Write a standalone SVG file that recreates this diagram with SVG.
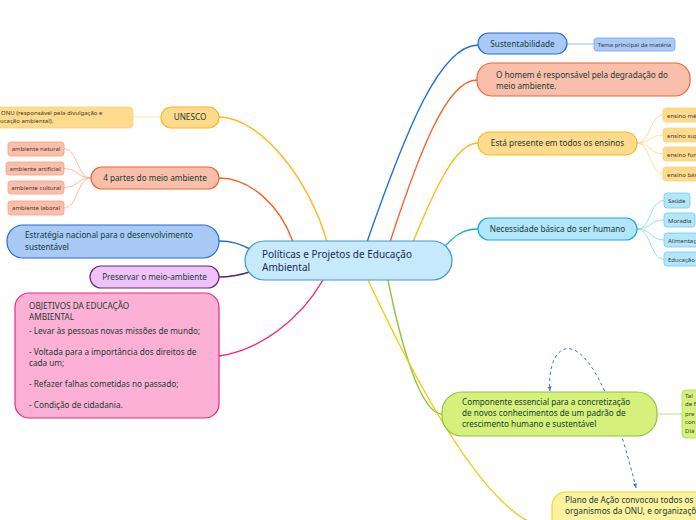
<svg xmlns="http://www.w3.org/2000/svg" width="696" height="520" viewBox="0 0 696 520">
<style>
text{font-family:"Noto Sans","Open Sans","DejaVu Sans",sans-serif;}
.t1{font-size:8.2px;fill:#173d33;}
.t0{font-size:10px;fill:#1b2b55;}
.t2{font-size:6px;fill:#3a3a3a;}
.c{fill:none;stroke-width:1.4;}
.cs{fill:none;stroke-width:0.9;}
.mid{text-anchor:middle;}
</style>
<defs>
<marker id="ah" viewBox="0 0 10 10" refX="9" refY="5" markerWidth="5" markerHeight="5" orient="auto-start-reverse" markerUnits="strokeWidth">
<path d="M0,1 L9,5 L0,9 z" fill="#3a6fe8"/>
</marker>
</defs>
<rect width="696" height="520" fill="#ffffff"/>
<g id="connectors">
<path class="c" stroke="#1f6fd6" d="M367,242 C406,130 440,45 478,45"/>
<path class="c" stroke="#f26433" d="M390,242 C420,150 447,80 477,80"/>
<path class="c" stroke="#fbb81c" d="M413,242 C436,186 456,143 478,143"/>
<path class="c" stroke="#1aabe6" d="M445,246 C455,236 462,229 478,229"/>
<path class="c" stroke="#8cc63f" d="M388,280 C400,340 420,414 442,414"/>
<path class="c" stroke="#e8cf10" d="M368,280 C410,370 490,528 552,528"/>
<path class="c" stroke="#fbb81c" d="M219,117 C260,117 310,180 327,242"/>
<path class="c" stroke="#f26433" d="M219,178 C250,178 280,205 293,242"/>
<path class="c" stroke="#1f6fd6" d="M219,241 C232,241 240,244 250,249"/>
<path class="c" stroke="#5a1f6d" d="M219,277 C232,277 240,275 250,272"/>
<path class="c" stroke="#f5207a" d="M219,356 C260,350 300,320 323,280"/>
<path class="cs" stroke="#8ab4f0" d="M567,44 L594,44"/>
<path class="cs" stroke="#fde0a0" d="M133,117 L161,117"/>
<path class="cs" stroke="#b5e06a" d="M657,414 L682,414"/>
<g stroke="#fdd98a">
<path class="cs" d="M637,143 C650,143 650,115 663,115"/>
<path class="cs" d="M637,143 C650,143 650,135 663,135"/>
<path class="cs" d="M637,143 C650,143 650,154 663,154"/>
<path class="cs" d="M637,143 C650,143 650,174 663,174"/>
</g>
<g stroke="#8fd8f5">
<path class="cs" d="M637,229 C651,229 650,200.5 664,200.5"/>
<path class="cs" d="M637,229 C651,229 650,220 664,220"/>
<path class="cs" d="M637,229 C651,229 650,240 664,240"/>
<path class="cs" d="M637,229 C651,229 650,259 664,259"/>
</g>
<g stroke="#f9b49a">
<path class="cs" d="M91,178 C77,178 78,149 64,149"/>
<path class="cs" d="M91,178 C77,178 78,168.5 64,168.5"/>
<path class="cs" d="M91,178 C77,178 78,187.5 64,187.5"/>
<path class="cs" d="M91,178 C77,178 78,208 64,208"/>
</g>
<path fill="none" stroke="#3a6fe8" stroke-width="1" stroke-dasharray="3,3" marker-start="url(#ah)" marker-end="url(#ah)" d="M636,488 C590,300 545,340 550,391"/>
</g>
<g id="center">
<rect x="245" y="241" width="207" height="39" rx="19.5" fill="#c6e9fb" stroke="#3d97d3" stroke-width="1.2"/>
<text class="t0" x="262" y="257.5">Políticas e Projetos de Educação</text>
<text class="t0" x="262" y="271">Ambiental</text>
</g>
<g id="sustentabilidade">
<rect x="478" y="33" width="89" height="21" rx="10.5" fill="#a9c9f7" stroke="#1f6fd6" stroke-width="1.2"/>
<text class="t1 mid" x="522.5" y="47">Sustentabilidade</text>
</g>
<g id="tema">
<rect x="594" y="38" width="81" height="13" rx="3" fill="#a9c9f7" stroke="#7aa6ea" stroke-width="0.8"/>
<text class="t2 mid" x="634.5" y="46.5">Tema principal da matéria</text>
</g>
<g id="homem">
<rect x="477" y="63" width="213" height="33" rx="15" fill="#f9bfab" stroke="#f26433" stroke-width="1.2"/>
<text class="t1" x="496" y="77.5">O homem é responsável pela degradação do</text>
<text class="t1" x="496" y="89">meio ambiente.</text>
</g>
<g id="ensinos">
<rect x="478" y="132" width="159" height="23" rx="11.5" fill="#fdda8c" stroke="#fbb81c" stroke-width="1.2"/>
<text class="t1 mid" x="557.5" y="146">Está presente em todos os ensinos</text>
</g>
<g id="ensino-medio">
<rect x="663" y="108" width="50" height="14" rx="3" fill="#fdda8c" stroke="#fcd27a" stroke-width="0.8"/>
<text class="t2" x="667" y="117.5">ensino médio</text>
</g>
<g id="ensino-superior">
<rect x="663" y="128" width="50" height="14" rx="3" fill="#fdda8c" stroke="#fcd27a" stroke-width="0.8"/>
<text class="t2" x="667" y="137.5">ensino superior</text>
</g>
<g id="ensino-fundamental">
<rect x="663" y="147" width="50" height="14" rx="3" fill="#fdda8c" stroke="#fcd27a" stroke-width="0.8"/>
<text class="t2" x="667" y="156.5">ensino fundamental</text>
</g>
<g id="ensino-basico">
<rect x="663" y="167" width="50" height="14" rx="3" fill="#fdda8c" stroke="#fcd27a" stroke-width="0.8"/>
<text class="t2" x="667" y="176.5">ensino básico</text>
</g>
<g id="necessidade">
<rect x="478" y="218" width="159" height="22" rx="11" fill="#b3e5fb" stroke="#1aabe6" stroke-width="1.2"/>
<text class="t1 mid" x="557.5" y="232">Necessidade básica do ser humano</text>
</g>
<g id="saude">
<rect x="664" y="193" width="26" height="15" rx="3" fill="#b3e5fb" stroke="#6ccdf2" stroke-width="0.8"/>
<text class="t2" x="668" y="202.5">Saúde</text>
</g>
<g id="moradia">
<rect x="664" y="213" width="31" height="14" rx="3" fill="#b3e5fb" stroke="#6ccdf2" stroke-width="0.8"/>
<text class="t2" x="668" y="222.5">Moradia</text>
</g>
<g id="alimentacao">
<rect x="664" y="233" width="45" height="14" rx="3" fill="#b3e5fb" stroke="#6ccdf2" stroke-width="0.8"/>
<text class="t2" x="668" y="242.5">Alimentação</text>
</g>
<g id="educacao">
<rect x="664" y="252" width="45" height="14" rx="3" fill="#b3e5fb" stroke="#6ccdf2" stroke-width="0.8"/>
<text class="t2" x="668" y="261.5">Educação</text>
</g>
<g id="componente">
<rect x="442" y="392" width="215" height="44" rx="20" fill="#d5f07b" stroke="#8cc63f" stroke-width="1.2"/>
<text class="t1" x="462" y="405">Componente essencial para a concretização</text>
<text class="t1" x="462" y="416">de novos conhecimentos de um padrão de</text>
<text class="t1" x="462" y="427">crescimento humano e sustentável</text>
</g>
<g id="componente-nota">
<rect x="682" y="390" width="40" height="48" rx="4" fill="#d5f07b" stroke="#a8d860" stroke-width="0.8"/>
<text class="t2" x="685" y="398">Tal</text>
<text class="t2" x="685" y="406">de f</text>
<text class="t2" x="685" y="416">pre</text>
<text class="t2" x="685" y="424">con</text>
<text class="t2" x="685" y="433">Diá</text>
</g>
<g id="plano">
<rect x="552" y="492" width="200" height="50" rx="14" fill="#fdf2a0" stroke="#f2d424" stroke-width="1.2"/>
<text class="t1" x="565" y="503">Plano de Ação convocou todos os p</text>
<text class="t1" x="565" y="514">organismos da ONU, e organizaçõ</text>
</g>
<g id="unesco">
<rect x="161" y="107" width="58" height="21" rx="10.5" fill="#fdda8c" stroke="#fbb81c" stroke-width="1.2"/>
<text class="t1 mid" x="190" y="120">UNESCO</text>
</g>
<g id="onu">
<rect x="-10" y="107" width="143" height="21" rx="4" fill="#fdda8c" stroke="#fcd27a" stroke-width="0.8"/>
<text class="t2" x="1" y="115">ONU (responsável pela divulgação e</text>
<text class="t2" x="0" y="122.5">ucação ambiental).</text>
</g>
<g id="partes">
<rect x="91" y="167" width="128" height="22" rx="11" fill="#f9bfab" stroke="#f26433" stroke-width="1.2"/>
<text class="t1 mid" x="155" y="181">4 partes do meio ambiente</text>
</g>
<g id="natural">
<rect x="8" y="142" width="56" height="14" rx="3" fill="#f9bfab" stroke="#f7a080" stroke-width="0.8"/>
<text class="t2 mid" x="36" y="151">ambiente natural</text>
</g>
<g id="artificial">
<rect x="6" y="162" width="58" height="13" rx="3" fill="#f9bfab" stroke="#f7a080" stroke-width="0.8"/>
<text class="t2 mid" x="35" y="170.5">ambiente artificial</text>
</g>
<g id="cultural">
<rect x="8" y="181" width="56" height="13" rx="3" fill="#f9bfab" stroke="#f7a080" stroke-width="0.8"/>
<text class="t2 mid" x="36" y="189.5">ambiente cultural</text>
</g>
<g id="laboral">
<rect x="8" y="201" width="56" height="14" rx="3" fill="#f9bfab" stroke="#f7a080" stroke-width="0.8"/>
<text class="t2 mid" x="36" y="210">ambiente laboral</text>
</g>
<g id="estrategia">
<rect x="7" y="225" width="212" height="33" rx="16" fill="#a9c9f7" stroke="#1f6fd6" stroke-width="1.2"/>
<text class="t1" x="25" y="237.5">Estratégia nacional para o desenvolvimento</text>
<text class="t1" x="25" y="249.5">sustentável</text>
</g>
<g id="preservar">
<rect x="90" y="266" width="129" height="22" rx="11" fill="#efc2f9" stroke="#6b2a7d" stroke-width="1.2"/>
<text class="t1 mid" x="154.5" y="280">Preservar o meio-ambiente</text>
</g>
<g id="objetivos">
<rect x="15" y="293" width="204" height="125" rx="14" fill="#fdb0d6" stroke="#f0287a" stroke-width="1.2"/>
<text class="t1" x="29" y="309">OBJETIVOS DA EDUCAÇÃO</text>
<text class="t1" x="29" y="320">AMBIENTAL</text>
<text class="t1" x="29" y="333.5">- Levar às pessoas novas missões de mundo;</text>
<text class="t1" x="29" y="355">- Voltada para a importância dos direitos de</text>
<text class="t1" x="29" y="365.5">cada um;</text>
<text class="t1" x="29" y="386.5">- Refazer falhas cometidas no passado;</text>
<text class="t1" x="29" y="407.5">- Condição de cidadania.</text>
</g>
</svg>
